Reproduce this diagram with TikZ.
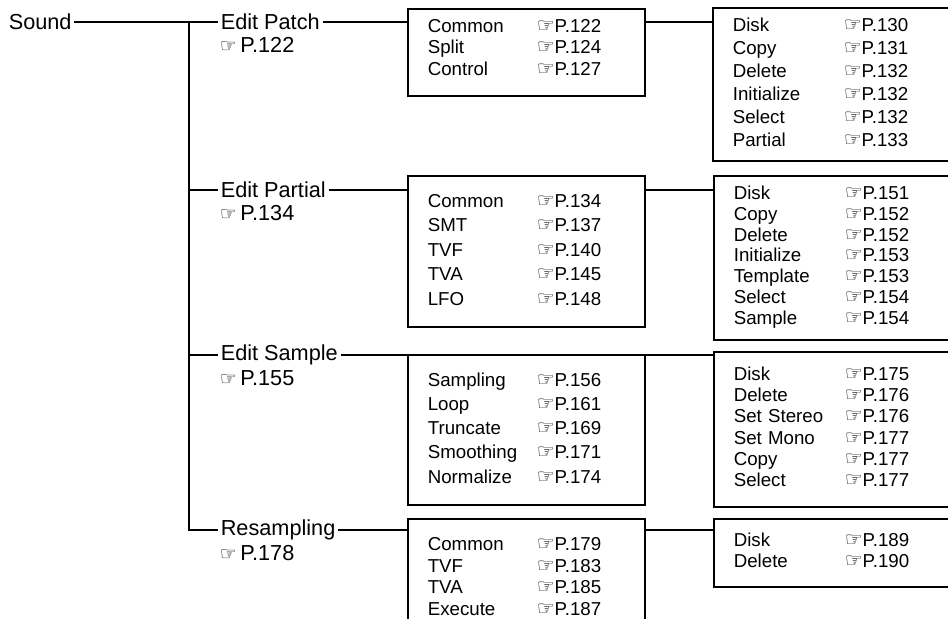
\documentclass[tikz,border=0pt]{standalone}
\usepackage{fontspec}
\setmainfont{Liberation Sans}
\newfontfamily\symfont{DejaVu Sans}
\usepackage{array}
\usetikzlibrary{positioning}
\newcommand\catfont{\fontsize{10.85}{13}\selectfont}
\newcommand\handref[1]{{\symfont\fontsize{10}{10}\selectfont ☞}P.#1}
\newcommand\cathandref[1]{{\symfont\fontsize{9.5}{9.5}\selectfont ☞}\,P.#1}

\begin{document}
\begin{tikzpicture}[
        x=0.5pt, y=-0.5pt,
        line width=0.8pt,
        catname/.style={anchor=west, inner sep=1pt, font=\catfont},
        catref/.style={anchor=west, inner sep=1pt, font=\catfont},
        menubox/.style={draw, anchor=north west, inner xsep=10pt, inner ysep=0pt, align=left, font=\fontsize{9.35}{#1}\selectfont},
        leftbox/.style={menubox=#1, text width=98.5pt},
        rightbox/.style={menubox=#1, text width=105pt}
    ]
        \useasboundingbox (0,0) rectangle (948,619);
        \node[catname] (sound) at (6,22) {Sound};
        \coordinate (trunk) at (189,22);
        % sections
        \node[catname] (patch) at (218,22) {Edit Patch};
        \node[catref] (patchref) at (217,45) {\cathandref{122}};
        \node[catname] (partial) at (218,190) {Edit Partial};
        \node[catref] (partialref) at (217,213) {\cathandref{134}};
        \node[catname] (sample) at (218,355) {Edit Sample};
        \node[catref] (sampleref) at (217,378) {\cathandref{155}};
        \node[catname] (resample) at (218,530) {Resampling};
        \node[catref] (resampleref) at (217,553) {\cathandref{178}};
        % edit menus
        \node[leftbox=10.75, minimum height=43.5pt] (pbox) at (407,8) {\begin{tabular}{@{}p{54.5pt}@{}l@{}}
            Common & \handref{122}\\
            Split & \handref{124}\\
            Control & \handref{127}\\[2.7pt]
        \end{tabular}};
        \node[leftbox=12.25, minimum height=75.5pt] (qbox) at (407,175) {\begin{tabular}{@{}p{54.5pt}@{}l@{}}
            Common & \handref{134}\\
            SMT & \handref{137}\\
            TVF & \handref{140}\\
            TVA & \handref{145}\\
            LFO & \handref{148}
        \end{tabular}};
        \node[leftbox=12.15, minimum height=75pt] (sbox) at (407,354) {\begin{tabular}{@{}p{54.5pt}@{}l@{}}
            Sampling & \handref{156}\\
            Loop & \handref{161}\\
            Truncate & \handref{169}\\
            Smoothing & \handref{171}\\
            Normalize & \handref{174}
        \end{tabular}};
        \node[leftbox=10.75, minimum height=60pt] (rbox) at (407,518) {\begin{tabular}{@{}p{54.5pt}@{}l@{}}
            Common & \handref{179}\\
            TVF & \handref{183}\\
            TVA & \handref{185}\\
            Execute & \handref{187}
        \end{tabular}};
        % utility menus
        \node[rightbox=11.5, minimum height=76.5pt] (pdisk) at (712,7) {\begin{tabular}{@{}p{55.5pt}@{}l@{}}
            Disk & \handref{130}\\
            Copy & \handref{131}\\
            Delete & \handref{132}\\
            Initialize & \handref{132}\\
            Select & \handref{132}\\
            Partial & \handref{133}
        \end{tabular}};
        \node[rightbox=10.35, minimum height=82pt] (qdisk) at (713,175) {\begin{tabular}{@{}p{55.5pt}@{}l@{}}
            Disk & \handref{151}\\
            Copy & \handref{152}\\
            Delete & \handref{152}\\
            Initialize & \handref{153}\\
            Template & \handref{153}\\
            Select & \handref{154}\\
            Sample & \handref{154}
        \end{tabular}};
        \node[rightbox=10.6, minimum height=77.5pt] (sdisk) at (713,351) {\begin{tabular}{@{}p{55.5pt}@{}l@{}}
            Disk & \handref{175}\\
            Delete & \handref{176}\\
            Set Stereo & \handref{176}\\
            Set Mono & \handref{177}\\
            Copy & \handref{177}\\
            Select & \handref{177}
        \end{tabular}};
        \node[rightbox=10.5, minimum height=34pt] (rdisk) at (713,518) {\begin{tabular}{@{}p{55.5pt}@{}l@{}}
            Disk & \handref{189}\\
            Delete & \handref{190}
        \end{tabular}};
        % tree lines
        \draw (sound.east) -- (patch.west);
        \draw (trunk) |- (resample.west);
        \draw (partial.west -| trunk) -- (partial.west);
        \draw (sample.west -| trunk) -- (sample.west);
        \draw (patch.east) -- (patch.east -| pbox.west);
        \draw (partial.east) -- (partial.east -| qbox.west);
        \draw (sample.east) -- (sample.east -| sbox.west);
        \draw (resample.east) -- (resample.east -| rbox.west);
        \draw (patch.east -| pbox.east) -- (patch.east -| pdisk.west);
        \draw (partial.east -| qbox.east) -- (partial.east -| qdisk.west);
        \draw (sample.east -| sbox.east) -- (sample.east -| sdisk.west);
        \draw (resample.east -| rbox.east) -- (resample.east -| rdisk.west);
    \end{tikzpicture}
\end{document}
